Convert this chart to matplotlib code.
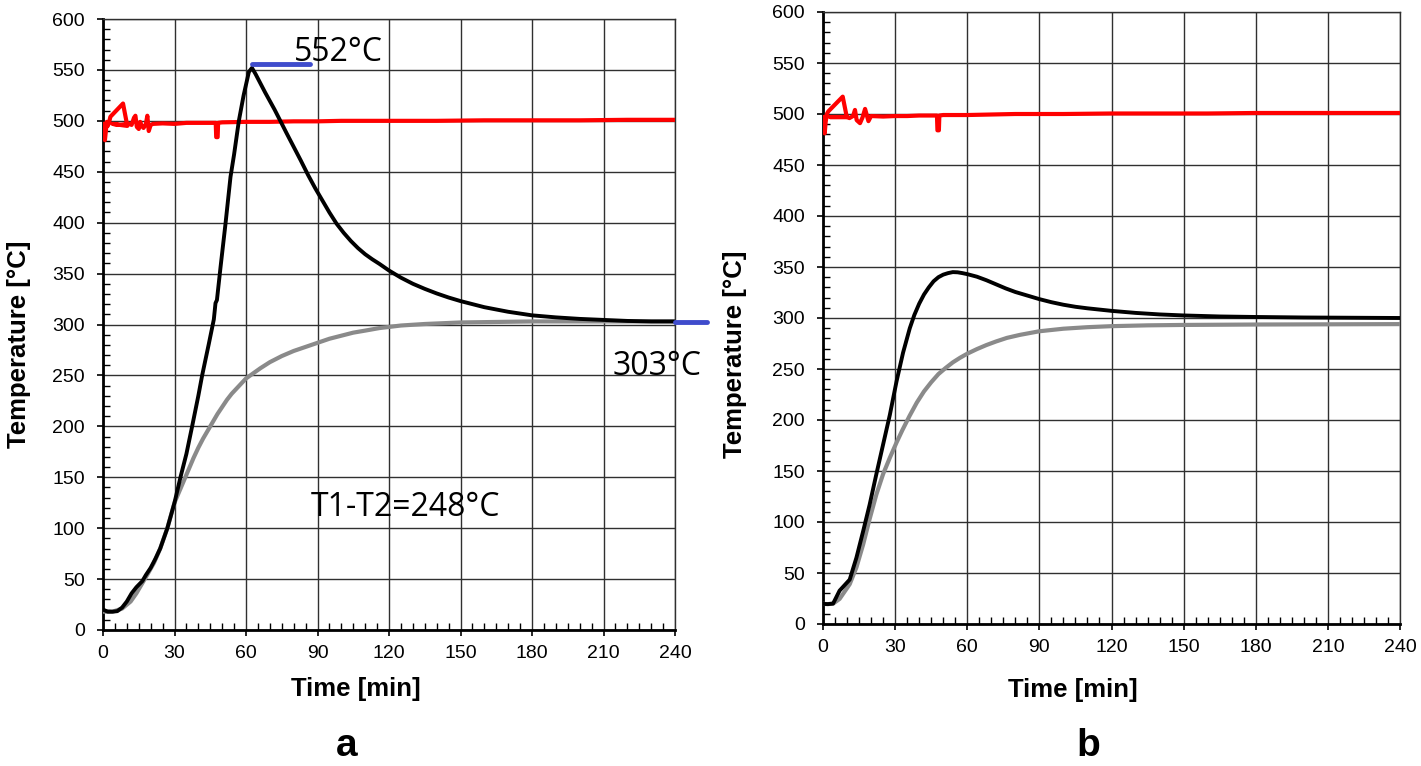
import matplotlib
matplotlib.use("Agg")
import matplotlib.pyplot as plt
from matplotlib.ticker import MultipleLocator

plt.rcParams['font.family'] = ['Liberation Sans', 'DejaVu Sans']

# ---- Donnees panneau a ----
a_t1_t = [0, 2, 4, 6, 8, 10, 12, 14, 16.5, 18, 20, 22, 24, 27, 30, 32.5, 35, 37.4, 40,
          41.6, 44.4, 46.5, 46.9, 47.2, 47.8, 49.3, 51.4, 53.5, 55, 57, 59, 61.2, 62.5,
          64, 66, 68, 70, 72, 74.4, 77, 80, 83, 86, 89, 92, 95, 98, 101, 104, 107, 110,
          113, 116, 120, 125, 130, 135, 140, 145, 150, 155, 160, 170, 180, 190, 200, 210,
          220, 230, 240]
a_t1_v = [20, 18, 18, 18.5, 22, 28, 36, 42, 48, 54, 61, 70, 80, 100, 125, 150, 173, 200, 230,
          250, 281, 305, 314, 321, 324, 356, 399, 445, 467, 500, 525, 548, 552,
          546, 537, 528, 519.5, 511, 500, 488, 474.5, 461, 447, 434, 422, 410, 399, 390, 382, 375, 369,
          364, 359.5, 353, 346, 340, 335, 330.5, 326.5, 323, 320, 317, 312.5, 309, 307, 305.5, 304.5,
          303.5, 303, 303]

a_t2_t = [0, 4, 8, 11.6, 14, 16.5, 19, 21.4, 24, 27, 30, 32, 34, 36, 38, 40, 42, 44, 46, 48,
          50, 52, 54, 56, 58, 60, 63, 66, 70, 75, 80, 85, 90, 95, 100, 105, 110, 116, 125,
          135, 150, 165, 180, 200, 220, 240]
a_t2_v = [18, 18, 21, 28, 36, 46, 56, 66, 80, 100, 125, 136, 147, 158, 169, 179, 188, 196, 204, 212,
          219, 226, 232, 237, 242, 247, 252, 257, 263, 269, 274, 278, 282, 286, 289, 292, 294, 296.5, 299,
          300.5, 302, 302.5, 303, 303, 303, 303]

a_four_t = [0, 0.4, 0.8, 1.2, 1.6, 2.0, 2.5, 3.1, 8.4, 10.2, 4, 7, 10, 11, 12, 13, 13.6, 14.2,
            15, 15.6, 16.2, 17, 18, 18.6, 19.2, 20, 21, 25, 30, 35, 40, 45, 47.3, 47.5, 48.1,
            48.3, 50, 60, 70, 80, 90, 100, 120, 140, 160, 180, 200, 220, 240]
a_four_v = [497, 486, 481, 490, 499, 495, 498, 504, 517, 495, 497, 496, 497, 497, 496, 503, 505, 494,
            492, 499, 495, 493, 497, 505, 490, 496, 497, 497.5, 497, 498, 498, 498, 498, 484, 484,
            498, 498.5, 499, 499, 499.5, 499.5, 500, 500, 500, 500.5, 500.5, 500.5, 501, 501]

# ---- Donnees panneau b ----
b_t1_t = [0, 2, 4.2, 6.9, 11.1, 13.9, 16.7, 19.4, 22.2, 25, 27.8, 30.6, 33.3, 36.1, 38,
          40, 42, 44, 46, 48, 50, 52, 54, 56, 58, 60, 64, 68, 72, 76, 80, 85, 90, 95,
          100, 105, 110, 120, 130, 140, 150, 165, 180, 200, 240]
b_t1_v = [19.7, 19.5, 20, 32.7, 43.5, 65, 91, 117, 147, 176, 205, 238, 266, 290, 303,
          314, 323, 330, 336, 340, 342.5, 344, 345, 344.8, 344, 343, 340.5, 337, 333, 329, 325.5, 322, 318.5, 315.5,
          313, 311, 309.5, 307, 305, 303.5, 302.5, 301.5, 301, 300.5, 300]

b_t2_t = [0, 2, 4.2, 6.9, 11.1, 13.9, 16.7, 19.4, 22.2, 25, 27.8, 30.6, 33, 36, 39, 42,
          45, 48, 51, 54, 57, 60, 64, 68, 72, 76.5, 82, 90, 100, 110, 120, 135, 150, 180, 240]
b_t2_v = [19.7, 19.5, 20, 24.6, 39, 55.5, 78, 103, 127, 147, 163, 178, 190, 204, 217, 228,
          237, 245, 251, 256.5, 261, 265, 269.5, 273.5, 277, 280.5, 283.5, 287, 289.5, 291, 292, 292.8, 293.2, 293.6, 294]

b_four_t = [0, 0.4, 0.7, 1.1, 1.6, 2.2, 8.2, 9.9, 3, 6, 9.9, 11, 12.5, 13.3, 14, 15.4, 16.5,
            17.5, 18.9, 20, 25, 30, 35, 40, 45, 47.4, 47.6, 48.2, 48.4, 50, 60, 70, 80, 90,
            100, 120, 140, 160, 180, 200, 220, 240]
b_four_v = [497, 488, 481, 492, 500, 502.5, 517, 497, 497, 497, 497, 496, 498, 504, 494, 491, 497,
            505, 493, 498, 497.5, 498, 498, 498.5, 498.5, 498.5, 484, 484, 498.5, 499, 499, 499.5,
            500, 500, 500, 500.5, 500.5, 500.5, 501, 501, 501, 501]

# annotations du panneau a
pic_t = [62.5, 87]
pic_v = [556, 556]
final_t = [240, 253.5]
final_v = [302, 302]

fig = plt.figure(figsize=(14.21, 7.66), dpi=100)
ax_a = fig.add_axes([103 / 1421, 1 - 630 / 766, 572 / 1421, 611 / 766])
ax_b = fig.add_axes([823 / 1421, 1 - 624 / 766, 577 / 1421, 612 / 766])


def mise_en_forme(ax):
    ax.set_xlim(0, 240)
    ax.set_ylim(0, 600)
    ax.xaxis.set_major_locator(MultipleLocator(30))
    ax.xaxis.set_minor_locator(MultipleLocator(5))
    ax.yaxis.set_major_locator(MultipleLocator(50))
    ax.yaxis.set_minor_locator(MultipleLocator(10))
    ax.tick_params(which='major', direction='out', length=4.5, width=1.2, labelsize=14,
                   pad=8.5, colors='black')
    ax.tick_params(which='minor', direction='in', length=5, width=1.0)
    ax.tick_params(axis='x', which='major', pad=6)
    ax.grid(which='major', color='#303030', linewidth=1.0)
    for cote in ['top', 'right']:
        ax.spines[cote].set_linewidth(1.0)
        ax.spines[cote].set_color('#303030')
    for cote in ['left', 'bottom']:
        ax.spines[cote].set_linewidth(2.0)
    ax.set_axisbelow(True)


for ax in [ax_a, ax_b]:
    mise_en_forme(ax)

ax_a.plot(a_four_t, a_four_v, color='#ff0000', linewidth=3.0, zorder=3)
ax_a.plot(a_t2_t, a_t2_v, color='#8a8a8a', linewidth=3.0, zorder=3)
ax_a.plot(a_t1_t, a_t1_v, color='black', linewidth=2.8, zorder=4)
ax_a.plot(pic_t, pic_v, color='#3f4ccc', linewidth=3.5, solid_capstyle='round', zorder=5)
ax_a.plot(final_t, final_v, color='#3f4ccc', linewidth=3.5, solid_capstyle='round',
          clip_on=False, zorder=5)

ax_b.plot(b_four_t, b_four_v, color='#ff0000', linewidth=3.0, zorder=3)
ax_b.plot(b_t2_t, b_t2_v, color='#8a8a8a', linewidth=3.0, zorder=3)
ax_b.plot(b_t1_t, b_t1_v, color='black', linewidth=2.8, zorder=4)

# textes des annotations
ax_a.text(80, 559, '552°C', fontsize=23, family=['Open Sans', 'DejaVu Sans'],
          ha='left', va='baseline', zorder=6)
ax_a.text(214, 250, '303°C', fontsize=23, family=['Open Sans', 'DejaVu Sans'],
          ha='left', va='baseline', clip_on=False, zorder=6)
ax_a.text(87.3, 112, 'T1-T2=248°C', fontsize=23, family=['Open Sans', 'DejaVu Sans'],
          ha='left', va='baseline', zorder=6)

# titres des axes
fig.text(19 / 1421, 1 - 344 / 766, 'Temperature [°C]', rotation=90, ha='center', va='center',
         fontsize=18.5, fontweight='bold')
fig.text(735 / 1421, 1 - 354 / 766, 'Temperature [°C]', rotation=90, ha='center', va='center',
         fontsize=18.5, fontweight='bold')
fig.text(356 / 1421, 1 - 689 / 766, 'Time [min]', ha='center', va='center',
         fontsize=18.5, fontweight='bold')
fig.text(1073 / 1421, 1 - 690 / 766, 'Time [min]', ha='center', va='center',
         fontsize=18.5, fontweight='bold')
fig.text(347 / 1421, 1 - 756 / 766, 'a', ha='center', va='baseline',
         fontsize=28, fontweight='bold')
fig.text(1088 / 1421, 1 - 756 / 766, 'b', ha='center', va='baseline',
         fontsize=28, fontweight='bold')

plt.savefig("out.png", dpi=100)
plt.close()
